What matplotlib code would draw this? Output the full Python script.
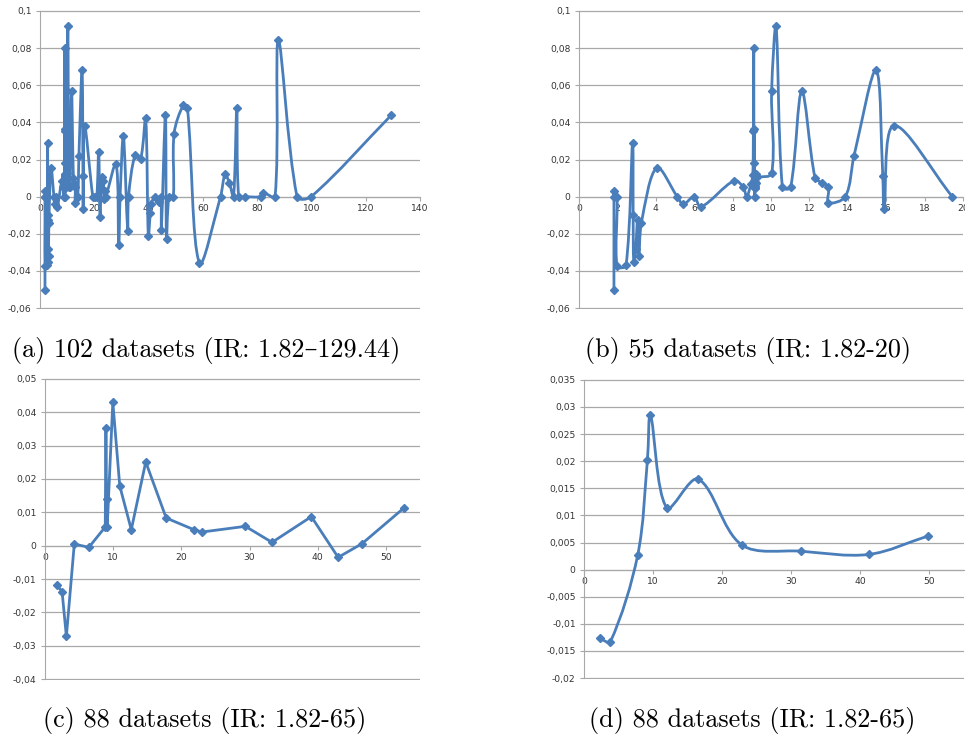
import numpy as np
import matplotlib
matplotlib.use('Agg')
import matplotlib.pyplot as plt
from matplotlib.path import Path
from matplotlib.patches import PathPatch
from matplotlib.ticker import FuncFormatter, MultipleLocator

# (b) datasets with IR <= 20, in series order
ir_low = [1.82, 1.82, 1.82, 1.98, 1.98, 2.45, 2.79, 2.82, 2.85, 2.95, 3.05, 3.12, 3.25,
          4.05, 5.12, 5.43, 5.99, 6.35, 8.09, 8.56, 8.73, 8.96,
          9.05, 9.08, 9.10, 9.11, 9.12, 9.13, 9.14, 9.15, 9.16, 9.17, 9.18, 9.19, 9.20,
          9.21, 9.22, 9.25,
          10.03, 10.03, 10.26, 10.59, 11.02, 11.6, 12.29, 12.64, 12.99, 12.99, 13.87,
          14.32, 15.47, 15.82, 15.89, 16.39, 19.44]
delta_low = [-0.050, 0.003, 0.0, 0.0, -0.0375, -0.037, 0.029, -0.010, -0.035, -0.028, -0.0125,
             -0.0317, -0.014,
             0.0155, 0.0, -0.0041, 0.0, -0.0055, 0.0087, 0.005, 0.0, 0.007,
             0.0115, 0.0355, 0.0803, 0.0065, 0.0366, 0.018, 0.0, 0.0045, 0.011, 0.008, 0.006,
             0.0045, 0.012, 0.0075, 0.011, 0.0105,
             0.0125, 0.0567, 0.0918, 0.005, 0.005, 0.0567, 0.0102, 0.0075, 0.005, -0.0032, 0.0,
             0.0219, 0.0681, 0.011, -0.0068, 0.0383, 0.0]

# remaining datasets of (a), IR > 20
ir_high = [20.1, 20.9, 21.6, 22.1, 22.7, 23.3, 23.6, 23.9, 24.2, 28.0, 29.0, 29.5, 30.7,
           32.3, 32.6, 35.0, 37.1, 38.9, 39.9, 40.6, 40.9, 42.4, 44.0, 44.6, 44.7, 46.2,
           46.6, 47.5, 49.1, 49.4, 52.8, 54.3, 58.7, 66.5, 68.2, 69.8, 71.3, 72.5, 73.2,
           75.5, 81.3, 82.3, 86.6, 87.8, 94.7, 99.9, 129.44]
delta_high = [0.0, 0.0, 0.024, -0.0112, 0.0107, 0.0086, -0.001, 0.003, 0.0, 0.0178, -0.0259,
              0.0, 0.0325, -0.0184, 0.0, 0.0223, 0.0205, 0.0423, -0.0214, -0.009, -0.004,
              0.0, -0.0027, 0.0, -0.018, 0.044, -0.023, 0.0, 0.0, 0.034, 0.0494, 0.048,
              -0.0357, 0.0, 0.0121, 0.0071, 0.0, 0.0478, 0.0, 0.0, 0.0, 0.0021, 0.0, 0.0844,
              0.0, 0.0, 0.0439]

ir_c = [1.79, 2.51, 3.14, 4.3, 6.43, 8.84, 8.94, 9.03, 9.13, 9.95, 10.97, 12.66, 14.78,
        17.78, 21.84, 23.04, 29.4, 33.3, 39.07, 43.0, 46.5, 52.7]
delta_c = [-0.0119, -0.0138, -0.0272, 0.0005, -0.0005, 0.0056, 0.0352, 0.0139, 0.0056,
           0.043, 0.0179, 0.0048, 0.0251, 0.0083, 0.0048, 0.0041, 0.0058, 0.001, 0.0087,
           -0.0035, 0.0006, 0.0114]

ir_d = [2.27, 3.82, 7.78, 9.18, 9.61, 11.98, 16.52, 22.8, 31.4, 41.2, 49.8]
delta_d = [-0.0127, -0.0133, 0.00275, 0.0203, 0.0286, 0.0114, 0.0167, 0.00458, 0.0034,
           0.0028, 0.0062]

captions = ['(a) 102 datasets (IR: 1.82\u2013129.44)', '(b) 55 datasets (IR: 1.82-20)',
            '(c) 88 datasets (IR: 1.82-65)', '(d) 88 datasets (IR: 1.82-65)']

LINE = '#4A7EBB'
GRID = '#A8A8A8'
FIG_W, FIG_H = 965, 738


def smooth_path(x, y, sx, sy):
    """Excel-like smoothed line: Bezier segments, tangents weighted by on-screen segment lengths."""
    pts = np.column_stack([x, y]).astype(float)
    scr = pts * [sx, sy]
    n = len(pts)

    def dist(i, j):
        return np.hypot(*(scr[j] - scr[i]))

    verts = [pts[0]]
    codes = [Path.MOVETO]
    for i in range(n - 1):
        i0, i3 = max(i - 1, 0), min(i + 2, n - 1)
        p0, p1, p2, p3 = pts[i0], pts[i], pts[i + 1], pts[i3]
        d01, d12, d23 = dist(i0, i), dist(i, i + 1), dist(i + 1, i3)
        w1 = d12 / (d01 + d12) / 3 if d01 + d12 > 0 else 0
        w2 = d12 / (d12 + d23) / 3 if d12 + d23 > 0 else 0
        verts += [p1 + (p2 - p0) * w1, p2 - (p3 - p1) * w2, p2]
        codes += [Path.CURVE4] * 3
    return Path(verts, codes)


def comma(v, pos):
    s = f'{v:.3f}'.rstrip('0').rstrip('.')
    if s in ('-0', ''):
        s = '0'
    return s.replace('.', ',')


def style(ax, xmax, xstep, ymin, ymax, ystep):
    pad = (ymax - ymin) * 0.003
    ax.set_xlim(0, xmax)
    ax.set_ylim(ymin - pad, ymax + pad)
    ax.xaxis.set_major_locator(MultipleLocator(xstep))
    ax.yaxis.set_major_locator(MultipleLocator(ystep))
    ax.xaxis.set_major_formatter(FuncFormatter(comma))
    ax.yaxis.set_major_formatter(FuncFormatter(comma))
    ax.grid(axis='y', color=GRID, lw=0.9)
    ax.set_axisbelow(True)
    for s in ('top', 'right'):
        ax.spines[s].set_visible(False)
    ax.spines['bottom'].set_position(('data', 0))
    ax.spines['left'].set_bounds(ymin, ymax)
    ax.spines['left'].set_color(GRID)
    ax.spines['bottom'].set_color(GRID)
    ax.tick_params(colors=GRID, labelcolor='#333333', labelsize=6.6, length=3, width=0.8)
    ax.tick_params(axis='x', pad=2)
    ax.tick_params(axis='y', pad=3)


def draw(ax, x, y, smooth=True):
    if smooth:
        box = ax.get_position()
        x0, x1 = ax.get_xlim()
        y0, y1 = ax.get_ylim()
        sx = box.width * FIG_W / (x1 - x0)
        sy = box.height * FIG_H / (y1 - y0)
        ax.add_patch(PathPatch(smooth_path(x, y, sx, sy), fill=False, edgecolor=LINE, lw=2.0,
                               capstyle='round', joinstyle='round', zorder=3))
    else:
        ax.plot(x, y, color=LINE, lw=2.0, zorder=3)
    ax.plot(x, y, ls='none', marker='D', ms=4.0, color=LINE, zorder=4)


fig = plt.figure(figsize=(FIG_W / 100, FIG_H / 100), dpi=100)

ax_a = fig.add_axes([0.0415, 0.5813, 0.3937, 0.4051])
ax_b = fig.add_axes([0.6, 0.5813, 0.398, 0.4051])
ax_c = fig.add_axes([0.0466, 0.0786, 0.3886, 0.4092])
ax_d = fig.add_axes([0.6052, 0.08, 0.3938, 0.4065])

style(ax_a, 140, 20, -0.06, 0.1, 0.02)
draw(ax_a, ir_low + ir_high, delta_low + delta_high)

style(ax_b, 20, 2, -0.06, 0.1, 0.02)
draw(ax_b, ir_low, delta_low)

style(ax_c, 55, 10, -0.04, 0.05, 0.01)
draw(ax_c, ir_c, delta_c, smooth=False)

style(ax_d, 55, 10, -0.02, 0.035, 0.005)
draw(ax_d, ir_d, delta_d)

cap_font = ['cmr10', 'DejaVu Serif']
fig.text(0.2135, 0.525, captions[0], ha='center', va='center', fontsize=18.8, family=cap_font)
fig.text(0.775, 0.525, captions[1], ha='center', va='center', fontsize=18.8, family=cap_font)
fig.text(0.2125, 0.024, captions[2], ha='center', va='center', fontsize=18.8, family=cap_font)
fig.text(0.779, 0.024, captions[3], ha='center', va='center', fontsize=18.8, family=cap_font)

fig.savefig('out.png', dpi=100)
